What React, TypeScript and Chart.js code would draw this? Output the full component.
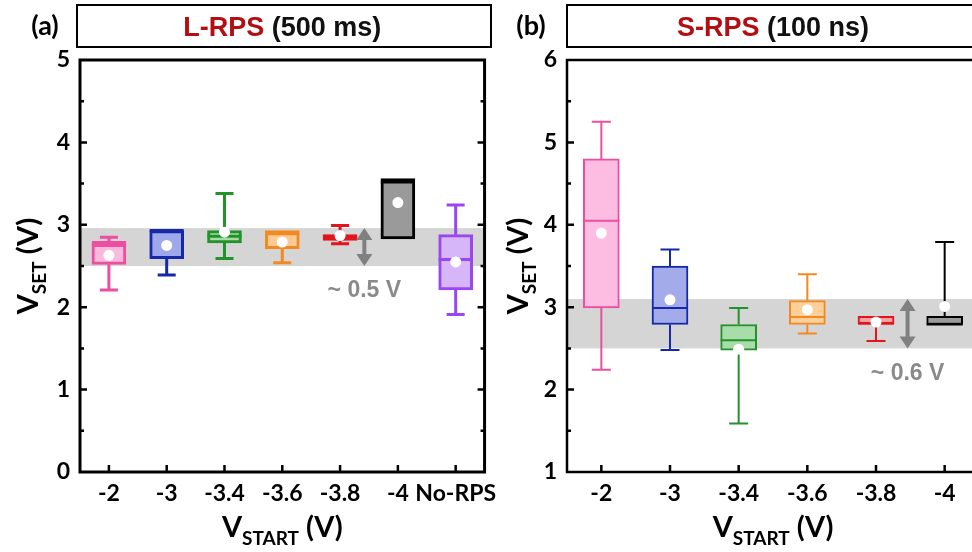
import React, { useEffect, useRef } from 'react';
import { Chart, registerables } from 'chart.js';
Chart.register(...registerables);

// ---------- Panel (a): L-RPS (500 ms) ----------
const catsA = ['-2', '-3', '-3.4', '-3.6', '-3.8', '-4', 'No-RPS'];
const minA = [2.21, 2.39, 2.59, 2.54, 2.77, 2.83, 1.91];
const q1A = [2.52, 2.59, 2.78, 2.71, 2.81, 2.83, 2.21];
const medianA = [2.75, 2.93, 2.86, 2.89, 2.85, 3.52, 2.58];
const q3A = [2.80, 2.93, 2.93, 2.93, 2.88, 3.56, 2.88];
const maxA = [2.85, 2.93, 3.38, 2.93, 2.99, 3.56, 3.24];
const meanA = [2.63, 2.75, 2.91, 2.79, 2.87, 3.27, 2.55];
const bandA = [2.5, 2.96];
const yRangeA = [0, 5];
const lineColorsA = ['#ec4fa0', '#1428a8', '#22922a', '#f28a22', '#e4141c', '#000000', '#9a46f2'];
const fillColorsA = ['#fbb9de', '#9fa8ea', '#a6dba6', '#fcca92', '#f8a3a3', '#9a9a9a', '#d6b6f8'];

// ---------- Panel (b): S-RPS (100 ns) ----------
const catsB = ['-2', '-3', '-3.4', '-3.6', '-3.8', '-4'];
const minB = [2.24, 2.48, 1.59, 2.68, 2.59, 2.79];
const q1B = [2.99, 2.79, 2.48, 2.79, 2.80, 2.79];
const medianB = [4.05, 2.99, 2.60, 2.88, 2.80, 2.79];
const q3B = [4.80, 3.50, 2.79, 3.08, 2.89, 2.89];
const maxB = [5.25, 3.70, 2.99, 3.40, 2.89, 3.79];
const meanB = [3.90, 3.09, 2.49, 2.97, 2.82, 3.01];
const bandB = [2.5, 3.1];
const yRangeB = [1, 6];
const lineColorsB = ['#ec4fa0', '#1428a8', '#22922a', '#f28a22', '#e4141c', '#000000'];
const fillColorsB = ['#fdbde3', '#a3abea', '#a8dca8', '#fdd09a', '#f8a3a3', '#9a9a9a'];

const titleA = ['L-RPS', ' (500 ms)'];
const titleB = ['S-RPS', ' (100 ns)'];
const bandLabelA = '~ 0.5 V';
const bandLabelB = '~ 0.6 V';

const TICK_FONT = 'Lato';

type Part = [string, string, string, number];

function drawRich(ctx: CanvasRenderingContext2D, parts: Part[], x: number, y: number) {
  let w = 0;
  parts.forEach((p) => { ctx.font = p[1]; w += ctx.measureText(p[0]).width; });
  let cx = x - w / 2;
  ctx.textAlign = 'left';
  ctx.textBaseline = 'alphabetic';
  parts.forEach((p) => {
    ctx.font = p[1];
    ctx.fillStyle = p[2];
    ctx.fillText(p[0], cx, y + p[3]);
    cx += ctx.measureText(p[0]).width;
  });
}

interface Panel {
  cats: string[]; min: number[]; q1: number[]; median: number[]; q3: number[]; max: number[]; mean: number[];
  band: number[]; yRange: number[]; lines: string[]; fills: string[];
  title: string[]; panelTag: string; bandLabel: string;
  canvasW: number; padR: number; yW: number; lw: number; frameW: number; barW: number; capW: number;
  boxX: number; boxRight: number; tagX: number; yTitleX: number; arrowIdx: number;
}

function makePlugin(p: Panel) {
  return {
    id: 'boxExtras',
    beforeDatasetsDraw(chart: any) {
      const { ctx, chartArea: ca, scales } = chart;
      const y = scales.y;
      const yt = y.getPixelForValue(p.band[1]);
      const yb = y.getPixelForValue(p.band[0]);
      ctx.save();
      ctx.fillStyle = '#d5d5d5';
      ctx.fillRect(ca.left, yt, ca.right - ca.left, yb - yt);
      ctx.restore();
    },
    afterDatasetDraw(chart: any, args: any) {
      if (args.meta.type !== 'bar') return;
      const { ctx } = chart;
      const y = chart.scales.y;
      ctx.save();
      ctx.lineWidth = p.lw;
      ctx.lineCap = 'butt';
      args.meta.data.forEach((el: any, i: number) => {
        const cx = el.x;
        const c = p.lines[i];
        ctx.strokeStyle = c;
        const pq1 = y.getPixelForValue(p.q1[i]);
        const pq3 = y.getPixelForValue(p.q3[i]);
        const pmin = y.getPixelForValue(p.min[i]);
        const pmax = y.getPixelForValue(p.max[i]);
        const pmed = y.getPixelForValue(p.median[i]);
        ctx.beginPath();
        if (p.max[i] > p.q3[i]) {
          ctx.moveTo(cx, pq3); ctx.lineTo(cx, pmax);
          ctx.moveTo(cx - p.capW / 2, pmax); ctx.lineTo(cx + p.capW / 2, pmax);
        }
        if (p.min[i] < p.q1[i]) {
          ctx.moveTo(cx, pq1); ctx.lineTo(cx, pmin);
          ctx.moveTo(cx - p.capW / 2, pmin); ctx.lineTo(cx + p.capW / 2, pmin);
        }
        ctx.moveTo(cx - p.barW / 2, pmed); ctx.lineTo(cx + p.barW / 2, pmed);
        ctx.stroke();
      });
      ctx.restore();
    },
    afterDatasetsDraw(chart: any) {
      const { ctx, chartArea: ca, scales } = chart;
      const x = scales.x;
      const y = scales.y;
      ctx.save();
      // frame
      ctx.strokeStyle = '#000';
      ctx.lineWidth = p.frameW;
      ctx.strokeRect(ca.left, ca.top, ca.right - ca.left, ca.bottom - ca.top);
      // inward y ticks (major and minor), both sides
      ctx.lineWidth = 2.5;
      ctx.beginPath();
      y.ticks.forEach((t: any) => {
        if (t.value <= p.yRange[0] || t.value >= p.yRange[1]) return;
        const py = y.getPixelForValue(t.value);
        const len = Number.isInteger(t.value) ? 7 : 4;
        ctx.moveTo(ca.left, py); ctx.lineTo(ca.left + len, py);
        ctx.moveTo(ca.right, py); ctx.lineTo(ca.right - len, py);
      });
      // inward x ticks
      p.cats.forEach((_c, i) => {
        const px = x.getPixelForValue(i);
        ctx.moveTo(px, ca.bottom); ctx.lineTo(px, ca.bottom - 7);
      });
      ctx.stroke();
      // double arrow across the band
      const ax = x.getPixelForValue(p.arrowIdx);
      const yt = y.getPixelForValue(p.band[1]);
      const yb = y.getPixelForValue(p.band[0]);
      const hh = 12, hw = 8;
      ctx.fillStyle = '#808080';
      ctx.fillRect(ax - 2, yt + hh - 1, 4, yb - yt - 2 * hh + 2);
      ctx.beginPath();
      ctx.moveTo(ax, yt); ctx.lineTo(ax - hw, yt + hh); ctx.lineTo(ax + hw, yt + hh); ctx.closePath();
      ctx.moveTo(ax, yb); ctx.lineTo(ax - hw, yb - hh); ctx.lineTo(ax + hw, yb - hh); ctx.closePath();
      ctx.fill();
      ctx.font = 'bold 23px "Liberation Sans", Arial, sans-serif';
      ctx.fillStyle = '#8a8a8a';
      ctx.textAlign = 'center';
      ctx.textBaseline = 'middle';
      ctx.fillText(p.bandLabel, ax, yb + 25);
      ctx.restore();
    },
    afterDraw(chart: any) {
      const { ctx, chartArea: ca } = chart;
      ctx.save();
      // title box
      ctx.strokeStyle = '#000';
      ctx.lineWidth = 2;
      ctx.strokeRect(p.boxX, 5, p.boxRight - p.boxX, 42);
      const midX = (ca.left + ca.right) / 2;
      drawRich(ctx, [
        [p.title[0], 'bold 27px "Liberation Sans", Arial, sans-serif', '#b50e12', 0],
        [p.title[1], 'bold 27px "Liberation Sans", Arial, sans-serif', '#111111', 0],
      ], midX, 36);
      // panel tag
      drawRich(ctx, [[p.panelTag, `bold 27px ${TICK_FONT}`, '#000', 0]], p.tagX, 35);
      // x axis title
      drawRich(ctx, [
        ['V', `bold 29px ${TICK_FONT}`, '#000', 0],
        ['START', `bold 19px ${TICK_FONT}`, '#000', 8],
        [' (V)', `bold 29px ${TICK_FONT}`, '#000', 0],
      ], midX, 537);
      // y axis title (rotated)
      ctx.translate(p.yTitleX, (ca.top + ca.bottom) / 2);
      ctx.rotate(-Math.PI / 2);
      drawRich(ctx, [
        ['V', `bold 29px ${TICK_FONT}`, '#000', 0],
        ['SET', `bold 19px ${TICK_FONT}`, '#000', 8],
        [' (V)', `bold 29px ${TICK_FONT}`, '#000', 0],
      ], 0, 0);
      ctx.restore();
    },
  };
}

function makeConfig(p: Panel): any {
  return {
    type: 'bar',
    data: {
      labels: p.cats,
      datasets: [
        {
          type: 'line',
          data: p.mean,
          showLine: false,
          pointRadius: 5.5,
          pointHoverRadius: 5.5,
          pointBackgroundColor: '#ffffff',
          pointBorderWidth: 0,
          order: 1,
        },
        {
          type: 'bar',
          data: p.q1.map((v, i) => [v, p.q3[i]]),
          backgroundColor: p.fills,
          borderColor: p.lines,
          borderWidth: p.lw,
          borderSkipped: false,
          barThickness: p.barW,
          order: 2,
        },
      ],
    },
    options: {
      responsive: false,
      animation: false,
      devicePixelRatio: 1,
      events: [],
      layout: { padding: { left: 0, top: 60, right: p.padR, bottom: 0 } },
      plugins: { legend: { display: false }, tooltip: { enabled: false }, title: { display: false } },
      scales: {
        x: {
          offset: true,
          grid: { display: false, drawTicks: false },
          border: { display: false },
          ticks: {
            font: { family: TICK_FONT, weight: 'bold', size: 23 },
            color: '#000',
            padding: 8,
            maxRotation: 0,
            autoSkip: false,
          },
          afterFit: (s: any) => { s.height = 80; },
        },
        y: {
          min: p.yRange[0],
          max: p.yRange[1],
          grid: { display: false, drawTicks: false },
          border: { display: false },
          ticks: {
            stepSize: 0.5,
            callback: (v: any) => (Number.isInteger(v) ? String(v) : ''),
            font: { family: TICK_FONT, weight: 'bold', size: 23 },
            color: '#000',
            padding: 10,
          },
          afterFit: (s: any) => { s.width = p.yW; },
        },
      },
    },
    plugins: [makePlugin(p)],
  };
}

const panelA: Panel = {
  cats: catsA, min: minA, q1: q1A, median: medianA, q3: q3A, max: maxA, mean: meanA,
  band: bandA, yRange: yRangeA, lines: lineColorsA, fills: fillColorsA,
  title: titleA, panelTag: '(a)', bandLabel: bandLabelA,
  canvasW: 505, padR: 13, yW: 80, lw: 3, frameW: 3, barW: 34, capW: 18,
  boxX: 77, boxRight: 491, tagX: 45, yTitleX: 38, arrowIdx: 4.42,
};

const panelB: Panel = {
  cats: catsB, min: minB, q1: q1B, median: medianB, q3: q3B, max: maxB, mean: meanB,
  band: bandB, yRange: yRangeB, lines: lineColorsB, fills: fillColorsB,
  title: titleB, panelTag: '(b)', bandLabel: bandLabelB,
  canvasW: 500, padR: 16, yW: 72, lw: 2, frameW: 2.5, barW: 36, capW: 19,
  boxX: 72, boxRight: 520, tagX: 36, yTitleX: 33, arrowIdx: 4.46,
};

function PanelChart({ p, left }: { p: Panel; left: number }) {
  const ref = useRef<HTMLCanvasElement | null>(null);
  useEffect(() => {
    if (!ref.current) return;
    const chart = new Chart(ref.current, makeConfig(p));
    return () => chart.destroy();
  }, [p]);
  return (
    <canvas
      ref={ref}
      width={p.canvasW}
      height={552}
      style={{ position: 'absolute', left, top: 0, width: p.canvasW, height: 552 }}
    />
  );
}

export default function App() {
  return (
    <div
      style={{
        position: 'fixed', left: 0, top: 0, width: 972, height: 552,
        overflow: 'hidden', background: '#ffffff',
      }}
    >
      <PanelChart p={panelA} left={0} />
      <PanelChart p={panelB} left={495} />
    </div>
  );
}
